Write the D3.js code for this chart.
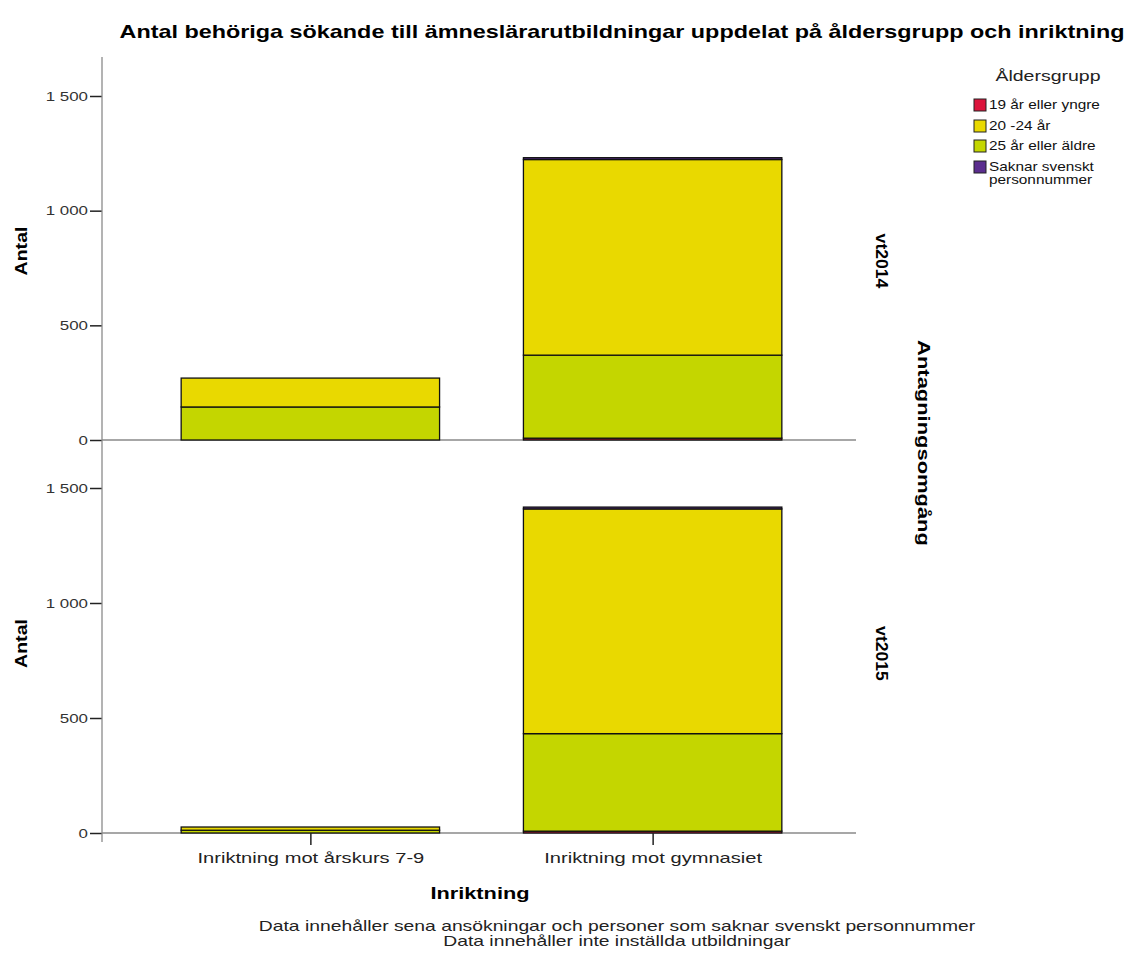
<!DOCTYPE html>
<html><head><meta charset="utf-8">
<script src="https://cdn.jsdelivr.net/npm/d3@7"></script>
<style>
body{margin:0;background:#fff;}
text{font-family:Arial,"Liberation Sans",sans-serif;}
</style></head>
<body><svg id="c" width="1131" height="959"></svg>
<script>
// ---- data ----
const categories = ["Inriktning mot årskurs 7-9", "Inriktning mot gymnasiet"];
const rounds = ["vt2014", "vt2015"];
const ageGroups = ["19 år eller yngre", "20 -24 år", "25 år eller äldre", "Saknar svenskt personnummer"];
const ageColors = ["#dc143c", "#e9d900", "#c4d600", "#5b2d8e"];
// values per round: [årskurs 7-9, gymnasiet]
const age19 = { vt2014: [0, 8], vt2015: [0, 8] };
const age2024 = { vt2014: [126, 853], vt2015: [14, 977] };
const age25 = { vt2014: [144, 362], vt2015: [12, 424] };
const ageMissing = { vt2014: [0, 8], vt2015: [0, 8] };
const yTicks = [0, 500, 1000, 1500];
const stackOrder = [0, 2, 1, 3]; // bottom to top: 19, 25+, 20-24, saknar
const seriesByGroup = [age19, age2024, age25, ageMissing];

const svg = d3.select("#c");
const left = 102;
const panels = [{top: 57, bottom: 449}, {top: 449, bottom: 842}];
const x = d3.scalePoint().domain(categories).range([105, 858]).padding(0.6);
const barW = x.step() * 0.755;
const fmt = v => d3.format(",")(v).replace(/,/g, " ");
function stretch(sel, factor) {
  sel.each(function () {
    const w = this.getComputedTextLength();
    d3.select(this).attr("textLength", w * factor).attr("lengthAdjust", "spacingAndGlyphs");
  });
  return sel;
}

svg.append("text").attr("x", 622).attr("y", 38).attr("text-anchor", "middle")
  .style("font-size", "19px").style("font-weight", "bold")
  .text("Antal behöriga sökande till ämneslärarutbildningar uppdelat på åldersgrupp och inriktning")
  .call(s => s.attr("textLength", 1005).attr("lengthAdjust", "spacingAndGlyphs"));

rounds.forEach((r, pi) => {
  const p = panels[pi];
  const y = d3.scaleLinear().domain([0, 1500]).range([p.bottom - 9, p.top + 39]);
  const g = svg.append("g");
  g.append("line").attr("x1", left).attr("x2", 856).attr("y1", y(0)).attr("y2", y(0))
    .attr("stroke", "#8a8a8a").attr("stroke-width", 1.3);
  categories.forEach((c, ci) => {
    let acc = 0;
    stackOrder.forEach(si => {
      const v = seriesByGroup[si][r][ci];
      if (v <= 0) return;
      g.append("rect").attr("x", x(c) - barW / 2).attr("width", barW)
        .attr("y", y(acc + v)).attr("height", y(acc) - y(acc + v))
        .attr("fill", ageColors[si]).attr("stroke", "#111").attr("stroke-width", 1.3);
      acc += v;
    });
  });
  const ax = g.append("g").attr("transform", `translate(${left},0)`)
    .call(d3.axisLeft(y).tickValues(yTicks).tickFormat(fmt).tickSize(12).tickPadding(2));
  ax.select(".domain").remove();
  ax.selectAll(".tick line").attr("stroke", "#222").attr("stroke-width", 1.5);
  ax.selectAll(".tick text").style("font-size", "13px").attr("fill", "#333")
    .attr("font-family", "Arial, 'Liberation Sans', sans-serif").call(stretch, 1.3);
  g.append("text").attr("transform", `translate(27,${(p.top + p.bottom) / 2 - 2}) rotate(-90)`)
    .attr("text-anchor", "middle").style("font-size", "17px").style("font-weight", "bold").text("Antal")
    .call(stretch, 1.15);
  g.append("text").attr("transform", `translate(876,${(p.top + p.bottom) / 2 + 8}) rotate(90)`)
    .attr("text-anchor", "middle").style("font-size", "16px").style("font-weight", "bold").text(r)
    .call(stretch, 1.1);
  if (pi === 1) {
    const xa = g.append("g").attr("transform", `translate(0,${y(0)})`)
      .call(d3.axisBottom(x).tickSize(12).tickPadding(7));
    xa.select(".domain").remove();
    xa.selectAll(".tick line").attr("stroke", "#222").attr("stroke-width", 1.5);
    xa.selectAll(".tick text").style("font-size", "15px").attr("fill", "#222")
      .attr("font-family", "Arial, 'Liberation Sans', sans-serif").call(stretch, 1.34);
  }
});
svg.append("line").attr("x1", left).attr("x2", left).attr("y1", 57).attr("y2", 842)
  .attr("stroke", "#8a8a8a").attr("stroke-width", 1.3);

svg.append("text").attr("transform", "translate(918,443) rotate(90)")
  .attr("text-anchor", "middle").style("font-size", "16px").style("font-weight", "bold").text("Antagningsomgång")
  .call(stretch, 1.37);

svg.append("text").attr("x", 480).attr("y", 899).attr("text-anchor", "middle")
  .style("font-size", "17px").style("font-weight", "bold").text("Inriktning").call(stretch, 1.28);
svg.append("text").attr("x", 617).attr("y", 931).attr("text-anchor", "middle")
  .style("font-size", "15px").attr("fill", "#222")
  .text("Data innehåller sena ansökningar och personer som saknar svenskt personnummer").call(stretch, 1.286);
svg.append("text").attr("x", 617).attr("y", 946).attr("text-anchor", "middle")
  .style("font-size", "15px").attr("fill", "#222")
  .text("Data innehåller inte inställda utbildningar").call(stretch, 1.286);

const lg = svg.append("g");
lg.append("text").attr("x", 1048).attr("y", 81).attr("text-anchor", "middle")
  .style("font-size", "15px").attr("fill", "#222").text("Åldersgrupp").call(stretch, 1.3);
const ly = [99, 120, 140, 161];
ageGroups.forEach((a, i) => {
  lg.append("rect").attr("x", 974).attr("y", ly[i]).attr("width", 12).attr("height", 12)
    .attr("fill", ageColors[i]).attr("stroke", "#222").attr("stroke-width", 1);
  const t = lg.append("text").attr("x", 989).attr("y", ly[i] + 10).style("font-size", "13px").attr("fill", "#111");
  if (i === 3) {
    t.append("tspan").attr("x", 989).text("Saknar svenskt");
    t.append("tspan").attr("x", 989).attr("dy", 13).text("personnummer");
    t.selectAll("tspan").each(function () {
      const w = this.getComputedTextLength();
      d3.select(this).attr("textLength", w * 1.18).attr("lengthAdjust", "spacingAndGlyphs");
    });
  } else t.text(a).call(stretch, 1.18);
});
</script></body></html>
